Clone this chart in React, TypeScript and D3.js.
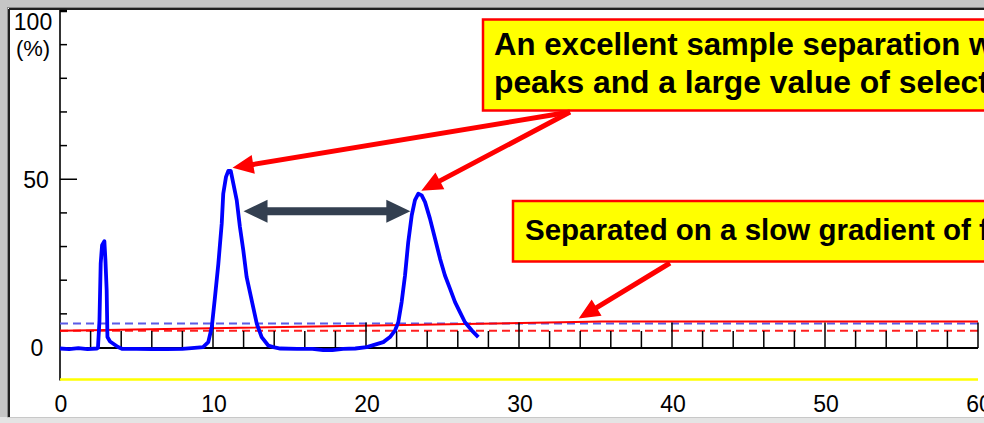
import { useEffect, useRef } from "react";
import * as d3 from "d3";

// chromatogram trace (time in min, signal in %)
const traceTime = [
  0, 0.6, 1.2, 1.8, 2.4, 2.48, 2.58, 2.66, 2.75, 2.9, 2.97, 3.05, 3.1, 3.27, 3.46, 3.79, 4.05, 5, 6, 7, 8, 8.6,
  9.35, 9.69, 9.92, 10.13, 10.35, 10.57, 10.67, 10.85, 11.0, 11.16, 11.33, 11.55, 11.76, 11.98, 12.2, 12.53,
  12.86, 13.18, 13.61, 13.94, 14.4, 15.5, 16.5, 17.2, 17.8, 18.5, 19.3, 20.05, 21.13, 21.57, 21.9, 22.11,
  22.33, 22.55, 22.76, 22.99, 23.2, 23.42, 23.64, 23.86, 24.18, 24.51, 24.84, 25.16, 25.49, 25.82, 26.14,
  26.47, 26.91, 27.34,
];
const traceSignal = [
  -0.3, -0.5, -0.2, -0.5, -0.3, -0.1, 8.0, 25, 30.4, 31.6, 25.9, 17, 3.1, 1.8, 1.2, 0.15, -0.4, -0.4, -0.5,
  -0.5, -0.4, -0.2, 0.1, 1.6, 6.0, 15, 24.9, 36.8, 45.7, 50.7, 52.5, 52.5, 48.7, 43.8, 35.8, 28.9, 20.9, 14,
  7.1, 3.1, 0.6, 0.1, -0.3, -0.4, -0.4, -0.8, -0.8, -0.4, -0.3, 0.1, 1.6, 3.1, 5.1, 7.5, 13.5, 21.4, 31.3,
  39.3, 43.8, 45.7, 45.2, 43.2, 38.3, 32.4, 26.4, 21.4, 17.5, 13.5, 10.5, 7.5, 5.1, 3.1,
];

// gradient program (red solid line)
const gradientTime = [0, 35.4, 60];
const gradientPct = [5.0, 7.7, 7.7];

// horizontal reference levels
const blueDashLevel = 7.1;
const redDashLevel = 5.0;
const yellowLevel = -9.5;

const xTickValues = [0, 10, 20, 30, 40, 50, 60];
const xTickLabels = ["0", "10", "20", "30", "40", "50", "60"];
const yTickValues = [0, 50, 100];
const yTickLabels = ["0", "50", "100"];

const peakTimes = [11.08, 23.42];
const peakHeights = [52.5, 45.7];

const note1 = ["An excellent sample separation with", "peaks and a large value of selectivity"];
const note2 = "Separated on a slow gradient of f";

function arrowPath(x1, y1, x2, y2, w, headLen, headHalf) {
  const dx = x2 - x1;
  const dy = y2 - y1;
  const len = Math.hypot(dx, dy);
  const ux = dx / len;
  const uy = dy / len;
  const nx = -uy;
  const ny = ux;
  const bx = x2 - ux * headLen;
  const by = y2 - uy * headLen;
  const h = w / 2;
  const pts = [
    [x1 + nx * h, y1 + ny * h],
    [bx + nx * h, by + ny * h],
    [bx + nx * headHalf, by + ny * headHalf],
    [x2, y2],
    [bx - nx * headHalf, by - ny * headHalf],
    [bx - nx * h, by - ny * h],
    [x1 - nx * h, y1 - ny * h],
  ];
  return "M" + pts.map((p) => p.join(",")).join("L") + "Z";
}

function doubleArrowPath(x1, x2, yy, w, headLen, headHalf) {
  const h = w / 2;
  return (
    `M${x1},${yy}L${x1 + headLen},${yy - headHalf}L${x1 + headLen},${yy - h}` +
    `L${x2 - headLen},${yy - h}L${x2 - headLen},${yy - headHalf}L${x2},${yy}` +
    `L${x2 - headLen},${yy + headHalf}L${x2 - headLen},${yy + h}L${x1 + headLen},${yy + h}` +
    `L${x1 + headLen},${yy + headHalf}Z`
  );
}

function renderChart(element) {
  const width = 984,
    height = 423;

  d3.select(element).selectAll("*").remove();

  const svg = d3
    .select(element)
    .append("svg")
    .attr("width", width)
    .attr("height", height)
    .style("position", "absolute")
    .style("left", "0px")
    .style("top", "0px")
    .style("font-family", "'Liberation Sans', Arial, sans-serif");

  svg.append("rect").attr("width", width).attr("height", height).attr("fill", "#ffffff");

  // window frame
  svg.append("rect").attr("x", 0).attr("y", 0).attr("width", width).attr("height", 7).attr("fill", "#c6c6c6");
  svg.append("rect").attr("x", 0).attr("y", 0).attr("width", 7).attr("height", height).attr("fill", "#c6c6c6");
  svg.append("rect").attr("x", 0).attr("y", 417).attr("width", width).attr("height", 6).attr("fill", "#e4e4e4");
  svg.append("line").attr("x1", 7).attr("x2", width).attr("y1", 7.5).attr("y2", 7.5).attr("stroke", "#8a8a8a");
  svg.append("line").attr("x1", 7.5).attr("x2", 7.5).attr("y1", 7).attr("y2", 417).attr("stroke", "#8a8a8a");
  svg.append("line").attr("x1", 9).attr("x2", width).attr("y1", 9).attr("y2", 9).attr("stroke", "#202020").attr("stroke-width", 2);
  svg.append("line").attr("x1", 9).attr("x2", 9).attr("y1", 9).attr("y2", 417).attr("stroke", "#202020").attr("stroke-width", 2);
  svg.append("line").attr("x1", 7).attr("x2", width).attr("y1", 417.5).attr("y2", 417.5).attr("stroke", "#c8c8c8");

  const x = d3.scaleLinear().domain([0, 60]).range([60, 978]);
  const y = d3.scaleLinear().domain([0, 100]).range([347.5, 11]);

  // y axis
  svg.append("line").attr("x1", 60).attr("x2", 60).attr("y1", 10).attr("y2", y(yellowLevel) + 1).attr("stroke", "#000").attr("stroke-width", 1.6);
  svg
    .append("g")
    .selectAll("line")
    .data(d3.range(10, 101, 10))
    .join("line")
    .attr("x1", 60)
    .attr("x2", (d) => (d === 50 ? 77 : 67))
    .attr("y1", (d) => y(d))
    .attr("y2", (d) => y(d))
    .attr("stroke", "#000")
    .attr("stroke-width", (d) => (d === 100 ? 2.5 : 1.5));

  svg
    .append("g")
    .selectAll("text")
    .data(yTickValues)
    .join("text")
    .attr("x", (d) => (d === 100 ? 33 : d === 50 ? 36 : 37))
    .attr("y", (d) => Math.max(y(d) + 8.5, 30))
    .attr("text-anchor", "middle")
    .attr("font-size", 23)
    .attr("fill", "#000")
    .text((d, i) => yTickLabels[i]);
  svg.append("text").attr("x", 33).attr("y", 56).attr("text-anchor", "middle").attr("font-size", 22).text("(%)");

  // yellow lower line
  svg.append("line").attr("x1", x(0)).attr("x2", x(60)).attr("y1", y(yellowLevel)).attr("y2", y(yellowLevel)).attr("stroke", "#ffff00").attr("stroke-width", 2.5);

  // x axis labels
  svg
    .append("g")
    .selectAll("text")
    .data(xTickValues)
    .join("text")
    .attr("x", (d) => x(d) + 1)
    .attr("y", 412)
    .attr("text-anchor", "middle")
    .attr("font-size", 23)
    .attr("fill", "#000")
    .text((d, i) => xTickLabels[i]);

  // reference lines
  svg.append("line").attr("x1", x(0)).attr("x2", x(60)).attr("y1", y(blueDashLevel)).attr("y2", y(blueDashLevel)).attr("stroke", "#5b5be6").attr("stroke-width", 2).attr("stroke-dasharray", "8,5");
  svg.append("line").attr("x1", x(0)).attr("x2", x(60)).attr("y1", y(redDashLevel)).attr("y2", y(redDashLevel)).attr("stroke", "#ff2020").attr("stroke-width", 2).attr("stroke-dasharray", "8,5");

  const gradLine = d3
    .line()
    .x((d) => x(d[0]))
    .y((d) => y(d[1]));
  svg
    .append("path")
    .attr("d", gradLine(gradientTime.map((t, i) => [t, gradientPct[i]])))
    .attr("fill", "none")
    .attr("stroke", "#ff0000")
    .attr("stroke-width", 2);

  // time ruler on the zero line
  svg.append("line").attr("x1", x(0)).attr("x2", x(60)).attr("y1", y(0) + 0.5).attr("y2", y(0) + 0.5).attr("stroke", "#000").attr("stroke-width", 2);
  svg
    .append("g")
    .selectAll("line")
    .data(d3.range(2, 61, 2))
    .join("line")
    .attr("x1", (d) => x(d))
    .attr("x2", (d) => x(d))
    .attr("y1", y(0) + 0.5)
    .attr("y2", (d) => y(0) - (d % 10 === 0 ? 25 : 16.5))
    .attr("stroke", "#000")
    .attr("stroke-width", 1.5);

  // chromatogram
  const line = d3
    .line()
    .x((d) => x(d[0]))
    .y((d) => y(d[1]));
  svg
    .append("path")
    .attr("d", line(traceTime.map((t, i) => [t, traceSignal[i]])))
    .attr("fill", "none")
    .attr("stroke", "#0000ff")
    .attr("stroke-width", 3.8)
    .attr("stroke-linejoin", "round");

  // annotation boxes
  svg.append("rect").attr("x", 483).attr("y", 19.5).attr("width", 540).attr("height", 91).attr("fill", "#ffff00").attr("stroke", "#ff0000").attr("stroke-width", 2.5);
  svg
    .append("g")
    .selectAll("text")
    .data(note1)
    .join("text")
    .attr("x", 494)
    .attr("y", (d, i) => 55 + i * 38)
    .attr("font-size", (d, i) => (i === 0 ? 31.2 : 31.8))
    .attr("font-weight", "bold")
    .attr("fill", "#000")
    .text((d) => d);

  svg.append("rect").attr("x", 513).attr("y", 201).attr("width", 520).attr("height", 60.5).attr("fill", "#ffff00").attr("stroke", "#ff0000").attr("stroke-width", 2.5);
  svg.append("text").attr("x", 525).attr("y", 240).attr("font-size", 29.5).attr("font-weight", "bold").attr("fill", "#000").text(note2);

  // arrows to the peaks
  const origin = [570, 112];
  peakTimes.forEach((t, i) => {
    svg
      .append("path")
      .attr("d", arrowPath(origin[0], origin[1], x(t) + 3, y(peakHeights[i]) - 3, 5, 21, 9.5))
      .attr("fill", "#ff0000");
  });

  // arrow to the gradient line
  const gT = 33.9;
  const gV = 5.0 + (2.7 * gT) / 35.4;
  svg.append("path").attr("d", arrowPath(670, 263, x(gT), y(gV) - 3.5, 5, 21, 9.5)).attr("fill", "#ff0000");

  // double arrow between the peaks
  svg
    .append("path")
    .attr("d", doubleArrowPath(x(peakTimes[0]) + 14, x(peakTimes[1]) - 8, y(40.5), 8, 24, 11.5))
    .attr("fill", "#333f50");
}

export default function App() {
  const chartRef = useRef(null);
  useEffect(() => {
    if (chartRef?.current) {
      renderChart(chartRef.current);
    }
  }, [chartRef]);
  return <div ref={chartRef}></div>;
}
